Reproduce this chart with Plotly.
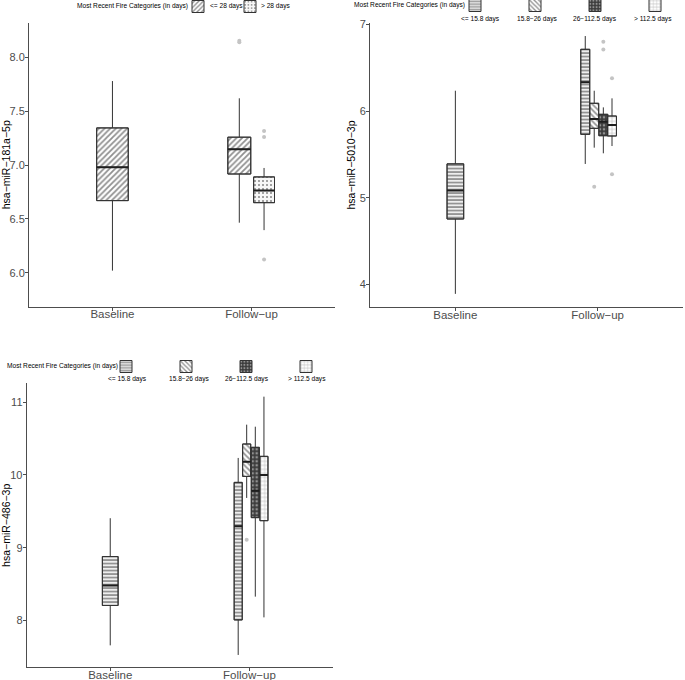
import plotly.graph_objects as go

W, H = 685, 680

# ---------------- data ----------------
groups = ["Baseline", "Follow−up"]

# Panel 1: hsa-miR-181a-5p
p1_title = "hsa−miR−181a−5p"
p1_cats = ["<= 28 days", "> 28 days"]
p1_base_low = [6.02]
p1_base_q1 = [6.67]
p1_base_med = [6.98]
p1_base_q3 = [7.345]
p1_base_high = [7.78]
p1_fu_low = [6.465, 6.396]
p1_fu_q1 = [6.917, 6.651]
p1_fu_med = [7.147, 6.763]
p1_fu_q3 = [7.259, 6.89]
p1_fu_high = [7.62, 6.973]
p1_fu_out = [[8.155, 8.14], [7.317, 7.261, 6.124]]

# Panel 2: hsa-miR-5010-3p
p2_title = "hsa−miR−5010−3p"
p23_cats = ["<= 15.8 days", "15.8−26 days", "26−112.5 days", "> 112.5 days"]
p2_base_low = [3.89]
p2_base_q1 = [4.754]
p2_base_med = [5.083]
p2_base_q3 = [5.39]
p2_base_high = [6.234]
p2_fu_low = [5.389, 5.577, 5.512, 5.596]
p2_fu_q1 = [5.731, 5.80, 5.715, 5.712]
p2_fu_med = [6.331, 5.908, 5.877, 5.838]
p2_fu_q3 = [6.712, 6.089, 5.962, 5.942]
p2_fu_high = [6.865, 6.234, 6.042, 6.146]
p2_fu_out = [[], [5.127], [6.80, 6.71], [6.377, 5.27]]

# Panel 3: hsa-miR-486-3p
p3_title = "hsa−miR−486−3p"
p3_base_low = [7.656]
p3_base_q1 = [8.204]
p3_base_med = [8.481]
p3_base_q3 = [8.878]
p3_base_high = [9.405]
p3_fu_low = [7.524, 9.684, 8.326, 8.041]
p3_fu_q1 = [8.006, 9.98, 9.413, 9.371]
p3_fu_med = [9.293, 10.183, 9.784, 10.0]
p3_fu_q3 = [9.898, 10.426, 10.38, 10.256]
p3_fu_high = [10.234, 10.692, 10.664, 11.077]
p3_fu_out = [[], [9.11], [], []]

legend_title = "Most Recent Fire Categories (in days)"

# ---------------- styles ----------------
FONT = "Liberation Sans, Arial, sans-serif"
BOX_LINE = "#333333"
OUT_COL = "#c4c4c4"
LEG_FS = 6.6

pat_p1 = [
    dict(shape="/", fgcolor="#222222", bgcolor="#ffffff", size=4, solidity=0.45),
    dict(shape=".", fgcolor="#222222", bgcolor="#f7f7f7", size=4, solidity=0.22),
]
pat_p23 = [
    dict(shape="-", fgcolor="#3a3a3a", bgcolor="#eeeeee", size=3.5, solidity=0.5),
    dict(shape="\\", fgcolor="#2a2a2a", bgcolor="#ffffff", size=4, solidity=0.45),
    dict(shape=".", fgcolor="#e6e6e6", bgcolor="#3c3c3c", size=4, solidity=0.35),
    dict(shape="+", fgcolor="#777777", bgcolor="#ffffff", size=4, solidity=0.3),
]

# layout geometry (pixels)
panels = {
    1: dict(x0=29, x1=335, y0=23, y1=306.5, yr=[5.687, 8.319], ticks=[6.0, 6.5, 7.0, 7.5, 8.0], fmt=".1f"),
    2: dict(x0=370, x1=683, y0=23.3, y1=306.7, yr=[3.742, 7.012], ticks=[4, 5, 6, 7], fmt="d"),
    3: dict(x0=26.7, x1=333, y0=383.3, y1=667.3, yr=[7.354, 11.261], ticks=[8, 9, 10, 11], fmt="d"),
}
base_width = {1: 0.227, 2: 0.117, 3: 0.113}
fu_offsets = {1: [-0.088, 0.09], 2: [-0.087, -0.024, 0.04, 0.101], 3: [-0.081, -0.02, 0.042, 0.104]}
fu_widths = {1: [0.165, 0.15], 2: [0.063] * 4, 3: [0.058] * 4}

fig = go.Figure()


def add_box(panel, xpos, width, low, q1, med, q3, high, pattern, name, legend, show, outliers):
    xa = "x" if panel == 1 else f"x{panel}"
    ya = "y" if panel == 1 else f"y{panel}"
    fig.add_trace(go.Bar(
        x=[xpos], y=[q3 - q1], base=[q1], width=[width],
        marker=dict(color=pattern["bgcolor"], pattern=pattern, line=dict(color=BOX_LINE, width=1)),
        name=name, legend=legend, showlegend=show,
        xaxis=xa, yaxis=ya, hoverinfo="skip",
    ))
    fig.add_trace(go.Box(
        x=[xpos], q1=[q1], median=[med], q3=[q3], lowerfence=[low], upperfence=[high],
        width=width, whiskerwidth=0, boxpoints=False,
        fillcolor="rgba(0,0,0,0)", line=dict(color=BOX_LINE, width=1),
        showlegend=False, xaxis=xa, yaxis=ya, hoverinfo="skip",
    ))
    # thicker median like ggplot
    fig.add_trace(go.Scatter(
        x=[xpos - width / 2, xpos + width / 2], y=[med, med], mode="lines",
        line=dict(color="#1e1e1e", width=2), showlegend=False, xaxis=xa, yaxis=ya, hoverinfo="skip",
    ))
    if outliers:
        fig.add_trace(go.Scatter(
            x=[xpos] * len(outliers), y=outliers, mode="markers",
            marker=dict(color=OUT_COL, size=4), showlegend=False, xaxis=xa, yaxis=ya, hoverinfo="skip",
        ))


# Panel 1
add_box(1, 1, base_width[1], p1_base_low[0], p1_base_q1[0], p1_base_med[0], p1_base_q3[0], p1_base_high[0],
        pat_p1[0], " ", "legend", False, [])
for i, c in enumerate(p1_cats):
    add_box(1, 2 + fu_offsets[1][i], fu_widths[1][i], p1_fu_low[i], p1_fu_q1[i], p1_fu_med[i], p1_fu_q3[i],
            p1_fu_high[i], pat_p1[i], " ", "legend", True, p1_fu_out[i])

# Panel 2
add_box(2, 1, base_width[2], p2_base_low[0], p2_base_q1[0], p2_base_med[0], p2_base_q3[0], p2_base_high[0],
        pat_p23[0], " ", "legend2", False, [])
for i, c in enumerate(p23_cats):
    add_box(2, 2 + fu_offsets[2][i], fu_widths[2][i], p2_fu_low[i], p2_fu_q1[i], p2_fu_med[i], p2_fu_q3[i],
            p2_fu_high[i], pat_p23[i], " ", "legend2", True, p2_fu_out[i])

# Panel 3
add_box(3, 1, base_width[3], p3_base_low[0], p3_base_q1[0], p3_base_med[0], p3_base_q3[0], p3_base_high[0],
        pat_p23[0], " ", "legend3", False, [])
for i, c in enumerate(p23_cats):
    add_box(3, 2 + fu_offsets[3][i], fu_widths[3][i], p3_fu_low[i], p3_fu_q1[i], p3_fu_med[i], p3_fu_q3[i],
            p3_fu_high[i], pat_p23[i], " ", "legend3", True, p3_fu_out[i])

titles = {1: p1_title, 2: p2_title, 3: p3_title}
AX = "#4d4d4d"
layout = dict(
    width=W, height=H, margin=dict(l=0, r=0, t=0, b=0, autoexpand=False),
    paper_bgcolor="white", plot_bgcolor="white",
    barmode="overlay", boxmode="overlay",
    font=dict(family=FONT, color="#000000"),
    showlegend=True,
)
for p, g in panels.items():
    sx = "" if p == 1 else str(p)
    layout[f"xaxis{sx}"] = dict(
        domain=[g["x0"] / W, g["x1"] / W], anchor=f"y{sx}", range=[0.4, 2.6],
        tickvals=[1, 2], ticktext=groups, showline=True, linecolor=AX, linewidth=1,
        ticks="outside", ticklen=3, tickcolor=AX, showgrid=False, zeroline=False,
        tickfont=dict(size=11.5, color=AX, family=FONT), automargin=False, ticklabelstandoff=-6,
    )
    layout[f"yaxis{sx}"] = dict(
        domain=[1 - g["y1"] / H, 1 - g["y0"] / H], anchor=f"x{sx}", range=g["yr"],
        tickvals=g["ticks"], tickformat=g["fmt"], showline=True, linecolor=AX, linewidth=1,
        ticks="outside", ticklen=3, tickcolor=AX, showgrid=False, zeroline=False,
        tickfont=dict(size=11, color=AX, family=FONT), automargin=False, ticklabelstandoff=-2,
        title=dict(text=titles[p], font=dict(size=10.5, color="#000000", family=FONT), standoff=1),
    )

# legend keys (plotly legends), title + labels as text
key_first = {1: (198, 6), 2: (475, 5), 3: (126, 366)}
entry_w = {1: 7, 2: 15, 3: 15}
for p, lg in ((1, "legend"), (2, "legend2"), (3, "legend3")):
    kx, ky = key_first[p]
    layout[lg] = dict(orientation="h", xanchor="left", yanchor="top", x=(kx - 20) / W, y=1 - (ky - 14) / H,
                      bgcolor="rgba(0,0,0,0)", font=dict(size=LEG_FS, family=FONT, color="#000000"),
                      itemclick=False, itemdoubleclick=False, traceorder="normal",
                      entrywidth=entry_w[p], entrywidthmode="pixels")

fig.update_layout(**layout)

title_pos = {1: (75, 6), 2: (352, 5), 3: (5, 366)}
for p, (tx, ty) in title_pos.items():
    fig.add_annotation(x=tx / W, y=1 - ty / H, xref="paper", yref="paper", text=legend_title,
                       showarrow=False, xanchor="left", yanchor="middle",
                       font=dict(size=LEG_FS, family=FONT, color="#000000"))

# panel 1 labels: right of keys
for lx, c in zip([208, 259], p1_cats):
    fig.add_annotation(x=lx / W, y=1 - 6 / H, xref="paper", yref="paper", text=c, showarrow=False,
                       xanchor="left", yanchor="middle", font=dict(size=LEG_FS, family=FONT, color="#000000"))

# panels 2 and 3 labels: under keys
lab_x = {2: [480, 537, 595, 653], 3: [128, 189, 247, 307]}
lab_y = {2: 19, 3: 379}
for p in (2, 3):
    for i, c in enumerate(p23_cats):
        fig.add_annotation(x=lab_x[p][i] / W, y=1 - lab_y[p] / H, xref="paper", yref="paper",
                           text=c, showarrow=False, xanchor="center", yanchor="middle",
                           font=dict(size=LEG_FS, family=FONT, color="#000000"))

fig.write_html("out.html", config={"displayModeBar": False},
               post_script="document.body.style.margin='0px';document.body.style.overflow='hidden';")
